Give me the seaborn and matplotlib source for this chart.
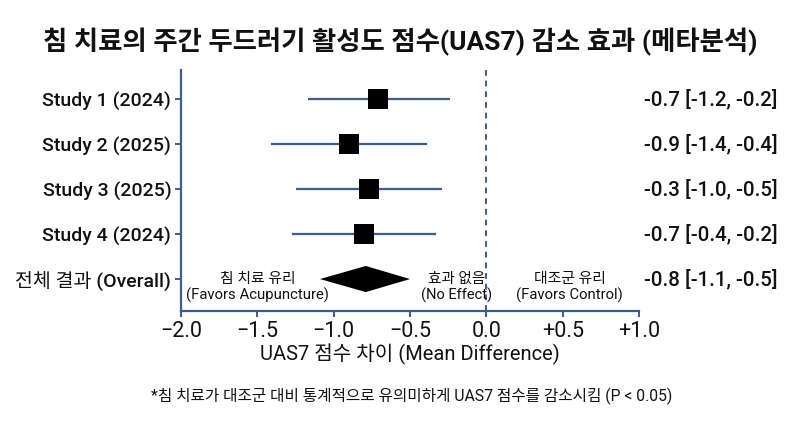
import numpy as np
import pandas as pd
import matplotlib
matplotlib.use("Agg")
import matplotlib.pyplot as plt
import seaborn as sns

# data
studies = ["Study 1 (2024)", "Study 2 (2025)", "Study 3 (2025)", "Study 4 (2024)"]
est = [-0.71, -0.90, -0.77, -0.80]
ci_lo = [-1.17, -1.41, -1.25, -1.27]
ci_hi = [-0.24, -0.39, -0.29, -0.33]

overall_label = "전체 결과 (Overall)"
overall_est = -0.79
overall_lo = -1.09
overall_hi = -0.50

right_labels = ["-0.7 [-1.2, -0.2]", "-0.9 [-1.4, -0.4]", "-0.3 [-1.0, -0.5]",
                "-0.7 [-0.4, -0.2]", "-0.8 [-1.1, -0.5]"]

xticks = [-2.0, -1.5, -1.0, -0.5, 0.0, 0.5, 1.0]
xtick_labels = ["\u22122.0", "\u22121.5", "\u22121.0", "\u22120.5", "0.0", "+0.5", "+1.0"]

sns.set_theme(style="white")
plt.rcParams['font.family'] = ['Roboto', 'Noto Sans CJK KR', 'DejaVu Sans']

blue = "#3a5d92"
ink = "#111111"

df = pd.DataFrame({"study": studies, "est": est, "lo": ci_lo, "hi": ci_hi})
df["row"] = np.arange(len(df))
n_rows = len(df) + 1
overall_row = len(df)

fig = plt.figure(figsize=(8, 4.36), dpi=100)
ax = fig.add_axes([0.2263, 0.2867, 0.5725, 0.5528])

# no-effect line
ax.axvline(0, color=blue, lw=1.4, ls=(0, (3, 2.5)), zorder=1)

# confidence intervals
ax.hlines(df["row"], df["lo"], df["hi"], color=blue, lw=1.6, zorder=2)

# study estimates
sns.scatterplot(data=df, x="est", y="row", marker="s", s=210, color="black",
                edgecolor="black", linewidth=0, ax=ax, zorder=3, legend=False)

# overall diamond
h = 0.29
ax.fill([overall_lo, overall_est, overall_hi, overall_est],
        [overall_row, overall_row - h, overall_row, overall_row + h],
        color="black", zorder=3, lw=0)

ax.set_xlim(-2.0, 1.0)
ax.set_ylim(overall_row + 0.71, -0.644)

ax.set_yticks(list(range(n_rows)))
ax.set_yticklabels(studies + [overall_label], fontsize=14, fontweight="medium", color=ink)
ax.set_xticks(xticks)
ax.set_xticklabels(xtick_labels, fontsize=15.5, color=ink)
ax.tick_params(axis="both", which="both", direction="out", length=4, width=1.4,
               color=blue, left=True, bottom=True, pad=3)
ax.tick_params(axis="x", pad=3)

for side in ["top", "right"]:
    ax.spines[side].set_visible(False)
for side in ["left", "bottom"]:
    ax.spines[side].set_color(blue)
    ax.spines[side].set_linewidth(1.6)

ax.set_xlabel("UAS7 점수 차이 (Mean Difference)", fontsize=14.5, color=ink, labelpad=1.5)
ax.set_ylabel("")

# right-hand effect labels
for i, lab in enumerate(right_labels):
    ax.text(1.011, i, lab, transform=ax.get_yaxis_transform(), ha="left", va="center",
            fontsize=14.8, fontweight="medium", color=ink)

# direction annotations
ann_y = overall_row + 0.19
ax.text(-1.50, ann_y, "침 치료 유리\n(Favors Acupuncture)", ha="center", va="center",
        fontsize=10.7, color=ink, linespacing=1.1)
ax.text(-0.195, ann_y, "효과 없음\n(No Effect)", ha="center", va="center",
        fontsize=10.5, color=ink, linespacing=1.1)
ax.text(0.545, ann_y, "대조군 유리\n(Favors Control)", ha="center", va="center",
        fontsize=10.7, color=ink, linespacing=1.1)

fig.text(0.5, 0.904, "침 치료의 주간 두드러기 활성도 점수(UAS7) 감소 효과 (메타분석)",
         ha="center", va="center", fontsize=19, fontweight="bold", color=ink)
fig.text(0.514, 0.092, "*침 치료가 대조군 대비 통계적으로 유의미하게 UAS7 점수를 감소시킴 (P < 0.05)",
         ha="center", va="center", fontsize=11.3, color=ink)

fig.savefig("out.png", dpi=100)
